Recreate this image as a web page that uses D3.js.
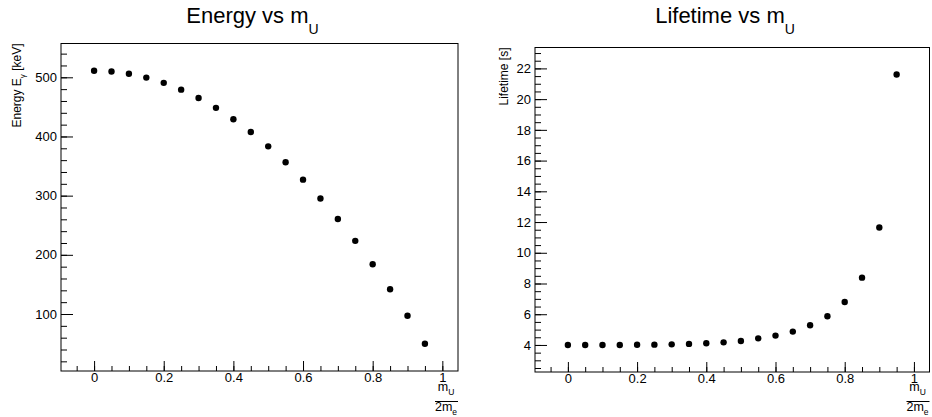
<!DOCTYPE html>
<html>
<head>
<meta charset="utf-8">
<script src="https://cdn.jsdelivr.net/npm/d3@7"></script>
<style>
  body { margin: 0; background: #fff; }
  svg { display: block; font-family: "Liberation Sans", Arial, sans-serif; }
</style>
</head>
<body>
<div id="chart"></div>
<script>
// m_U / 2m_e values
var masses = [0, 0.05, 0.1, 0.15, 0.2, 0.25, 0.3, 0.35, 0.4, 0.45, 0.5, 0.55, 0.6, 0.65, 0.7, 0.75, 0.8, 0.85, 0.9, 0.95];
// photon energy [keV]
var energy = [511, 509.7, 505.9, 499.5, 490.6, 479.1, 465.0, 448.4, 429.2, 407.5, 383.3, 356.4, 327.0, 295.1, 260.6, 223.6, 184.0, 141.8, 97.1, 49.8];
// lifetime [s]
var lifetime = [4.0, 4.0, 4.0, 4.0, 4.01, 4.02, 4.04, 4.07, 4.11, 4.17, 4.26, 4.43, 4.61, 4.87, 5.28, 5.87, 6.8, 8.38, 11.64, 21.6];

var xTicks = [0, 0.2, 0.4, 0.6, 0.8, 1];
var xTickLabels = ["0", "0.2", "0.4", "0.6", "0.8", "1"];
var energyTicks = [100, 200, 300, 400, 500];
var lifetimeTicks = [4, 6, 8, 10, 12, 14, 16, 18, 20, 22];

const WIDTH = 932, HEIGHT = 417;
const svg = d3.select("#chart").append("svg").attr("width", WIDTH).attr("height", HEIGHT)

// pad with 10% margin like ROOT's TGraph auto range
function padded(vals) {
    var lo = d3.min(vals), hi = d3.max(vals), r = hi - lo
    return [lo - 0.1 * r, hi + 0.1 * r]
}

function drawPanel(opt) {
    const x = d3.scaleLinear().domain(padded(masses)).range([opt.x0, opt.x1])
    const y = d3.scaleLinear().domain(padded(opt.values)).range([opt.y1, opt.y0])

    const g = svg.append("g")

    // title
    const t = g.append("text").attr("x", opt.titleX).attr("y", 23).attr("text-anchor", "middle")
        .attr("font-size", 22).attr("fill", "#000")
    t.append("tspan").text(opt.title + " vs m")
    t.append("tspan").attr("font-size", 14).attr("dy", 11).text("U")

    // minor ticks
    const xd = x.domain(), yd = y.domain()
    const xMinor = d3.range(-1, 1.5, 0.05).filter(v => v >= xd[0] && v <= xd[1])
    const yMinor = d3.range(0, yd[1], opt.minorStep).filter(v => v >= yd[0] && v <= yd[1])

    const styleAxis = sel => {
        sel.select(".domain").remove()
        sel.selectAll("line").attr("stroke", "#000")
        sel.selectAll("text").attr("font-size", 13).attr("font-family", "Liberation Sans, Arial, sans-serif").attr("fill", "#000")
    }

    g.append("g").attr("transform", "translate(0," + opt.y1 + ")")
        .call(d3.axisBottom(x).tickValues(xMinor).tickSizeInner(-5).tickSizeOuter(0).tickFormat(""))
        .call(styleAxis)
    g.append("g").attr("transform", "translate(0," + opt.y1 + ")")
        .call(d3.axisBottom(x).tickValues(xTicks).tickSizeInner(-10).tickSizeOuter(0).tickPadding(2)
            .tickFormat((d, i) => xTickLabels[i]))
        .call(styleAxis)

    g.append("g").attr("transform", "translate(" + opt.x0 + ",0)")
        .call(d3.axisLeft(y).tickValues(yMinor).tickSizeInner(-6).tickSizeOuter(0).tickFormat(""))
        .call(styleAxis)
    g.append("g").attr("transform", "translate(" + opt.x0 + ",0)")
        .call(d3.axisLeft(y).tickValues(opt.ticks).tickSizeInner(-12).tickSizeOuter(0).tickPadding(4)
            .tickFormat(d3.format("d")))
        .call(styleAxis)

    // frame
    g.append("rect").attr("x", opt.x0).attr("y", opt.y0).attr("width", opt.x1 - opt.x0).attr("height", opt.y1 - opt.y0)
        .attr("fill", "none").attr("stroke", "#000").attr("stroke-width", 1)

    // y title (rotated, right aligned at top of frame)
    const yt = g.append("text").attr("transform", "translate(" + opt.yLabelX + "," + opt.y0 + ") rotate(-90)")
        .attr("text-anchor", "end").attr("font-size", 12).attr("fill", "#000")
    opt.yLabel.forEach(p => {
        const s = yt.append("tspan").text(p.t)
        if (p.sub) s.attr("font-size", 8).attr("dy", 4)
        if (p.up) s.attr("dy", -4)
    })

    // x title: fraction m_U / 2m_e
    const cx = opt.x1 - 12
    const f = g.append("g").attr("font-size", 12.5).attr("fill", "#000")
    const num = f.append("text").attr("x", cx).attr("y", 391).attr("text-anchor", "middle")
    num.append("tspan").text("m")
    num.append("tspan").attr("font-size", 8.5).attr("dy", 3.5).text("U")
    f.append("line").attr("x1", opt.x1 - 23).attr("x2", opt.x1).attr("y1", 401.5).attr("y2", 401.5)
        .attr("stroke", "#000").attr("stroke-width", 1)
    const den = f.append("text").attr("x", cx).attr("y", 411).attr("text-anchor", "middle")
    den.append("tspan").text("2m")
    den.append("tspan").attr("font-size", 8.5).attr("dy", 3.5).text("e")

    // markers
    g.selectAll("circle").data(masses).enter().append("circle")
        .attr("cx", d => x(d)).attr("cy", (d, i) => y(opt.values[i])).attr("r", 3.2).attr("fill", "#000")
}

drawPanel({
    x0: 61, x1: 458, y0: 43.5, y1: 371,
    values: energy, ticks: energyTicks, minorStep: 20,
    title: "Energy", titleX: 252.5,
    yLabelX: 21,
    yLabel: [{t: "Energy E"}, {t: "\u03b3", sub: true}, {t: " [keV]", up: true}]
})

drawPanel({
    x0: 535, x1: 929.5, y0: 47.5, y1: 372,
    values: lifetime, ticks: lifetimeTicks, minorStep: 0.5,
    title: "Lifetime", titleX: 725,
    yLabelX: 508,
    yLabel: [{t: "Lifetime [s]"}]
})
</script>
</body>
</html>
